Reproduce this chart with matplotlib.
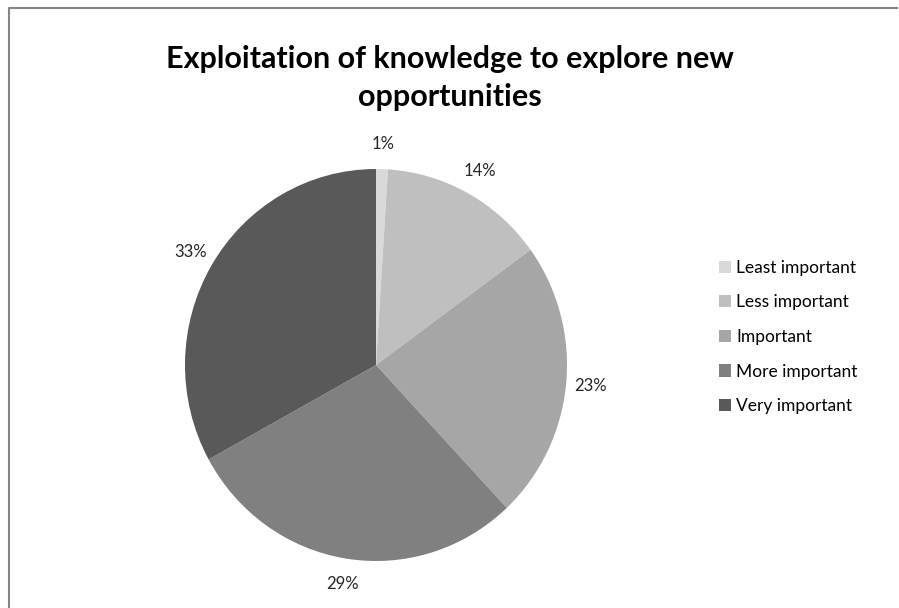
import matplotlib.pyplot as plt
from matplotlib.lines import Line2D

plt.rcParams['font.family'] = ['Lato', 'DejaVu Sans']

categories = ['Least important', 'Less important', 'Important', 'More important', 'Very important']
shares = [1, 14, 23, 29, 33]
colors = ['#d9d9d9', '#bfbfbf', '#a6a6a6', '#808080', '#595959']
title = 'Exploitation of knowledge to explore new\nopportunities'

fig = plt.figure(figsize=(8.99, 6.08), dpi=100)

# pie axes: centre ~ (376, 365) px, radii ~191 x 196 px
W, H = 899, 608
rx, ry = 191, 196
cx, cy = 376, 365
ax = fig.add_axes([(cx - rx) / W, (H - cy - ry) / H, 2 * rx / W, 2 * ry / H])

wedges, texts, autotexts = ax.pie(
    shares, colors=colors, startangle=90, counterclock=False,
    autopct='%1.0f%%', pctdistance=1.13,
    wedgeprops=dict(linewidth=0),
    textprops=dict(fontsize=12, color='#262626'),
)
ax.set_aspect('auto')
ax.set_xlim(-1, 1)
ax.set_ylim(-1, 1)
ax.axis('off')

fig.text(0.5, 1 - 78 / H, title, ha='center', va='center', fontsize=22,
         fontweight='bold', linespacing=1.42, color='black')

fig.legend(wedges, categories, loc='center left', bbox_to_anchor=(719 / W, 1 - 337 / H),
           frameon=False, fontsize=12.5, handlelength=0.7, handleheight=0.7,
           handletextpad=0.3, labelspacing=1.07, borderpad=0, borderaxespad=0)

# chart frame (only left and top edges visible in the crop)
fig.add_artist(Line2D([9 / W, 9 / W, 897 / W], [0.0, 1 - 8 / H, 1 - 8 / H],
                      color='#868686', linewidth=1.5, transform=fig.transFigure))

plt.savefig('out.png', dpi=100)
plt.close()
